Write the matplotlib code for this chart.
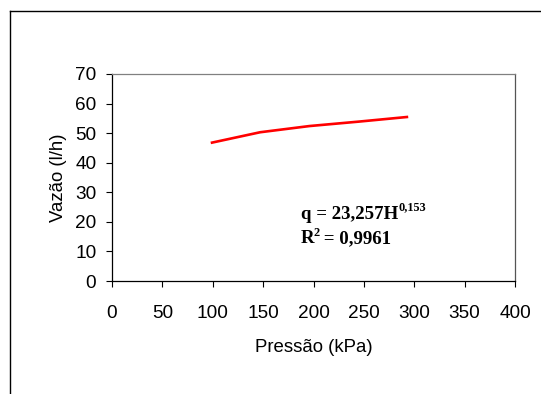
import matplotlib
matplotlib.use("Agg")
import matplotlib.pyplot as plt
from matplotlib.lines import Line2D

# dados
pressao = [98, 147, 196, 245, 294]
vazao = [46.7, 50.3, 52.4, 53.9, 55.5]
x_ticks = [0, 50, 100, 150, 200, 250, 300, 350, 400]
y_ticks = [0, 10, 20, 30, 40, 50, 60, 70]
eq_main = "q = 23,257H"
eq_exp = "0,153"
r2_base = "R"
r2_exp = "2"
r2_rest = " = 0,9961"

plt.rcParams["font.family"] = ["Liberation Sans", "DejaVu Sans"]

fig = plt.figure(figsize=(5.41, 3.94), dpi=100)
fig.patch.set_facecolor("white")
ax = fig.add_axes([112 / 541, 1 - 281 / 394, 403 / 541, 207 / 394])

ax.plot(pressao, vazao, color="#ff0000", lw=1.9, solid_capstyle="butt")

ax.set_xlim(0, 400)
ax.set_ylim(0, 70)
ax.set_xticks(x_ticks)
ax.set_yticks(y_ticks)
ax.tick_params(direction="out", length=4.3, width=0.8, labelsize=13.7, colors="black")
ax.tick_params(axis="x", pad=13)
ax.tick_params(axis="y", pad=7)

ax.spines["left"].set_color("black")
ax.spines["bottom"].set_color("black")
ax.spines["top"].set_color("#808080")
ax.spines["right"].set_color("#555555")
for s in ax.spines.values():
    s.set_linewidth(0.9)

ax.set_xlabel("Pressão (kPa)", fontsize=13.4, labelpad=12.5)
ax.set_ylabel("Vazão (l/h)", fontsize=13.4, labelpad=6)

# equação de ajuste
serif = dict(family=["Liberation Serif", "DejaVu Serif"], fontweight="bold")
t1 = ax.text(187.6, 21.0, eq_main, fontsize=13.6, va="baseline", **serif)
ax.annotate(eq_exp, xy=(1, 21.0), xycoords=(t1, "data"), xytext=(0.2, 6),
            textcoords="offset points", fontsize=8.8, va="baseline", **serif)
tr = ax.text(187.6, 12.85, r2_base, fontsize=13.6, va="baseline", **serif)
t2 = ax.annotate(r2_exp, xy=(1, 12.85), xycoords=(tr, "data"), xytext=(-0.8, 5),
                 textcoords="offset points", fontsize=8.8, va="baseline", **serif)
ax.annotate(r2_rest, xy=(1, 12.85), xycoords=(t2, "data"), xytext=(-0.5, 0),
            textcoords="offset points", fontsize=13.6, va="baseline", **serif)

# moldura externa (só esquerda e topo aparecem)
fig.add_artist(Line2D([9.5 / 541, 1], [1 - 10.5 / 394] * 2, color="black", lw=1.0))
fig.add_artist(Line2D([9.5 / 541] * 2, [0, 1 - 10.5 / 394], color="black", lw=1.0))

fig.savefig("out.png", dpi=100, facecolor="white")
